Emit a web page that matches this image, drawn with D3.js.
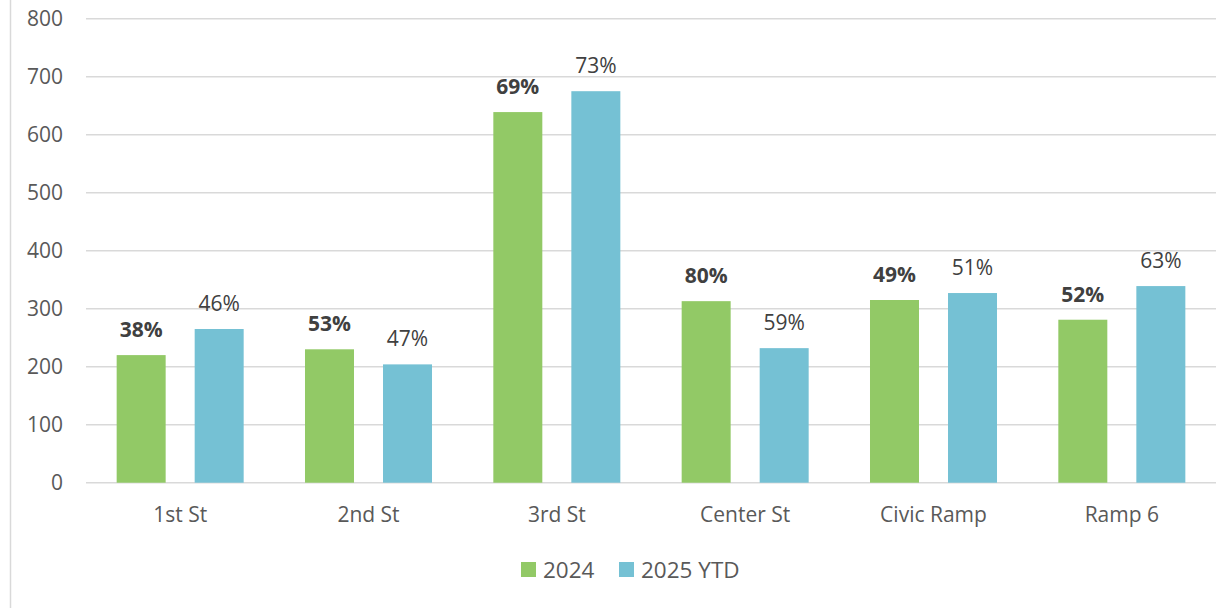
<!DOCTYPE html>
<html>
<head>
<meta charset="utf-8">
<script src="https://cdn.jsdelivr.net/npm/d3@7"></script>
<style>
  body { margin: 0; background: #fff; }
  svg { display: block; font-family: "Open Sans", sans-serif; }
</style>
</head>
<body>
<svg width="1218" height="608"></svg>
<script>
var categories = ["1st St", "2nd St", "3rd St", "Center St", "Civic Ramp", "Ramp 6"];
var seriesNames = ["2024", "2025 YTD"];
var values2024 = [220, 230, 639, 313, 315, 281];
var values2025 = [265, 204, 675, 232, 327, 339];
var pct2024 = ["38%", "53%", "69%", "80%", "49%", "52%"];
var pct2025 = ["46%", "47%", "73%", "59%", "51%", "63%"];
var yTicks = [0, 100, 200, 300, 400, 500, 600, 700, 800];
var colors = ["#92c966", "#75c1d4"];

var svg = d3.select("svg");

// chart border on the left
svg.append("line")
    .attr("x1", 10.5).attr("x2", 10.5)
    .attr("y1", 0).attr("y2", 608)
    .attr("stroke", "#d9d9d9")
    .attr("stroke-width", 1.5);

var x = d3.scaleBand().domain(categories).range([86, 1216]);
var xs = d3.scaleBand().domain(seriesNames).range([0, x.bandwidth()])
    .paddingInner(0.372).paddingOuter(0.393);
var y = d3.scaleLinear().domain([0, 800]).range([482.7, 18.7]);

// gridlines
svg.append("g").selectAll("line").data(yTicks).enter().append("line")
    .attr("x1", 86).attr("x2", 1216)
    .attr("y1", function(d) { return y(d); })
    .attr("y2", function(d) { return y(d); })
    .attr("stroke", "#d9d9d9")
    .attr("stroke-width", 1.5);

// y tick labels
svg.append("g").selectAll("text").data(yTicks).enter().append("text")
    .attr("x", 63)
    .attr("y", function(d) { return y(d); })
    .attr("dy", "0.35em")
    .attr("text-anchor", "end")
    .attr("fill", "#595959")
    .style("font-size", "21px")
    .text(function(d) { return d; });

var rows = categories.map(function(c, i) {
    return [
        {cat: c, s: seriesNames[0], v: values2024[i], lab: pct2024[i], idx: 0},
        {cat: c, s: seriesNames[1], v: values2025[i], lab: pct2025[i], idx: 1}
    ];
});

var groups = svg.append("g").selectAll("g").data(rows).enter().append("g")
    .attr("transform", function(d) { return "translate(" + x(d[0].cat) + ",0)"; });

groups.selectAll("rect").data(function(d) { return d; }).enter().append("rect")
    .attr("x", function(d) { return xs(d.s); })
    .attr("y", function(d) { return y(d.v); })
    .attr("width", xs.bandwidth())
    .attr("height", function(d) { return y(0) - y(d.v); })
    .attr("fill", function(d) { return colors[d.idx]; });

groups.selectAll("text").data(function(d) { return d; }).enter().append("text")
    .attr("x", function(d) { return xs(d.s) + xs.bandwidth() / 2; })
    .attr("y", function(d) { return y(d.v) - 18; })
    .attr("text-anchor", "middle")
    .attr("fill", "#404040")
    .style("font-size", "21px")
    .style("font-weight", function(d) { return d.idx === 0 ? "bold" : "normal"; })
    .text(function(d) { return d.lab; });

// category labels
svg.append("g").selectAll("text").data(categories).enter().append("text")
    .attr("x", function(d) { return x(d) + x.bandwidth() / 2; })
    .attr("y", 522)
    .attr("text-anchor", "middle")
    .attr("fill", "#595959")
    .style("font-size", "21px")
    .text(function(d) { return d; });

// legend
var legendX = [521, 619];
var legend = svg.append("g").selectAll("g").data(seriesNames).enter().append("g")
    .attr("transform", function(d, i) { return "translate(" + legendX[i] + ",562)"; });
legend.append("rect")
    .attr("width", 15).attr("height", 15)
    .attr("fill", function(d, i) { return colors[i]; });
legend.append("text")
    .attr("x", 22).attr("y", 15.5)
    .attr("fill", "#595959")
    .style("font-size", "22.5px")
    .text(function(d) { return d; });
</script>
</body>
</html>
